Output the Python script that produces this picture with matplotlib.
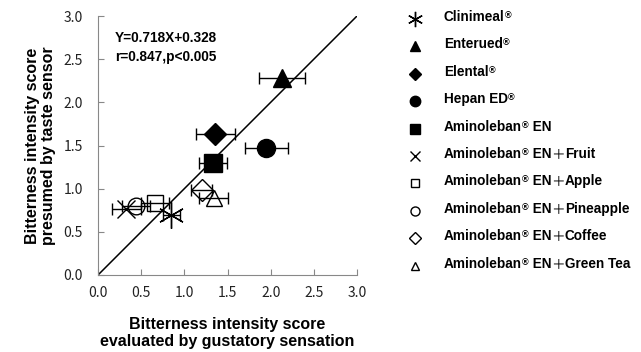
import re
import numpy as np
import matplotlib
matplotlib.use('Agg')
import matplotlib.pyplot as plt

# Data
names = ['Clinimeal®', 'Enterued®', 'Elental®', 'Hepan ED®', 'Aminoleban® EN',
         'Aminoleban® EN＋Fruit', 'Aminoleban® EN＋Apple', 'Aminoleban® EN＋Pineapple',
         'Aminoleban® EN＋Coffee', 'Aminoleban® EN＋Green Tea']
gustatory = [0.85, 2.13, 1.36, 1.95, 1.33, 0.33, 0.66, 0.44, 1.20, 1.34]
sensor = [0.70, 2.28, 1.63, 1.47, 1.30, 0.77, 0.83, 0.80, 0.98, 0.89]
gust_err = [0.10, 0.27, 0.23, 0.25, 0.16, 0.17, 0.16, 0.16, 0.12, 0.17]
ticks = [0.0, 0.5, 1.0, 1.5, 2.0, 2.5, 3.0]

markers = [(6, 2, 0), '^', 'D', 'o', 's', 'x', 's', 'o', 'D', '^']
filled = [False, True, True, True, True, False, False, False, False, False]
sizes = [19, 13, 11, 13, 13, 13, 12, 12, 11, 12]
leg_sizes = [11, 7, 6, 7.5, 6.5, 7, 6, 6.5, 6, 6]

W, H = 641, 352
fig = plt.figure(figsize=(W / 100, H / 100), dpi=100)
ax = fig.add_axes([98 / W, 77 / H, 259 / W, 259 / H])

bold = dict(family=['Liberation Sans', 'Noto Sans CJK JP'], fontweight='bold')

# error bars then markers
ax.errorbar(gustatory, sensor, xerr=gust_err, fmt='none', ecolor='black',
            elinewidth=1, capsize=4, capthick=1, zorder=2)
for i in range(len(names)):
    ax.plot(gustatory[i], sensor[i], linestyle='none', marker=markers[i],
            markersize=sizes[i], color='black',
            mfc='black' if filled[i] else 'none', mew=1.0, zorder=3)

ax.axline((0, 0), slope=1, color='black', lw=1.1, zorder=1)

ax.set_xlim(0, 3)
ax.set_ylim(0, 3)
ax.set_xticks(ticks)
ax.set_yticks(ticks)
ax.set_xticklabels(['%.1f' % t for t in ticks])
ax.set_yticklabels(['%.1f' % t for t in ticks])
ax.tick_params(direction='in', length=4, width=0.8, color='#888888',
               labelfontfamily='Noto Sans CJK JP', labelsize=10,
               labelcolor='#222222')
ax.tick_params(axis='x', pad=8)
ax.tick_params(axis='y', pad=11)
for s in ['top', 'right']:
    ax.spines[s].set_visible(False)
for s in ['left', 'bottom']:
    ax.spines[s].set_color('#888888')
    ax.spines[s].set_linewidth(0.8)

ax.set_xlabel('Bitterness intensity score\nevaluated by gustatory sensation',
              fontsize=11.5, linespacing=1.15, labelpad=12, **bold)
ax.set_ylabel('Bitterness intensity score\npresumed by taste sensor',
              fontsize=11.5, linespacing=1.15, labelpad=5, **bold)

ax.text(0.066, 0.916, 'Y=0.718X+0.328', transform=ax.transAxes, va='center',
        fontsize=9.8, **bold)
ax.text(0.066, 0.843, 'r=0.847,p<0.005', transform=ax.transAxes, va='center',
        fontsize=9.8, **bold)

# legend drawn in figure pixel space
lax = fig.add_axes([0, 0, 1, 1])
lax.set_xlim(0, W)
lax.set_ylim(H, 0)
lax.axis('off')
row0, step = 17, 27.4
for i, name in enumerate(names):
    yy = row0 + i * step
    lax.plot(415, yy + 2, linestyle='none', marker=markers[i], markersize=leg_sizes[i],
             color='black', mfc='black' if filled[i] else 'none', mew=1.0)
    parts = [p for p in re.split('(®|＋)', name) if p]
    prev = lax.text(444, yy, parts[0], va='center', ha='left', fontsize=9.8, **bold)
    base = prev
    for p in parts[1:]:
        if p == '®':
            prev = lax.annotate(p, xy=(1, 0.92), xycoords=prev, va='top', ha='left',
                                fontsize=6.5, **bold)
        elif p == '＋':
            prev = lax.annotate(p, xy=(1, 0), xycoords=(prev, base), va='bottom',
                                ha='left', fontsize=9.8, family='Noto Sans CJK JP')
        else:
            prev = lax.annotate(p, xy=(1, 0), xycoords=(prev, base), va='bottom',
                                ha='left', fontsize=9.8, **bold)

fig.savefig('out.png', dpi=100)
